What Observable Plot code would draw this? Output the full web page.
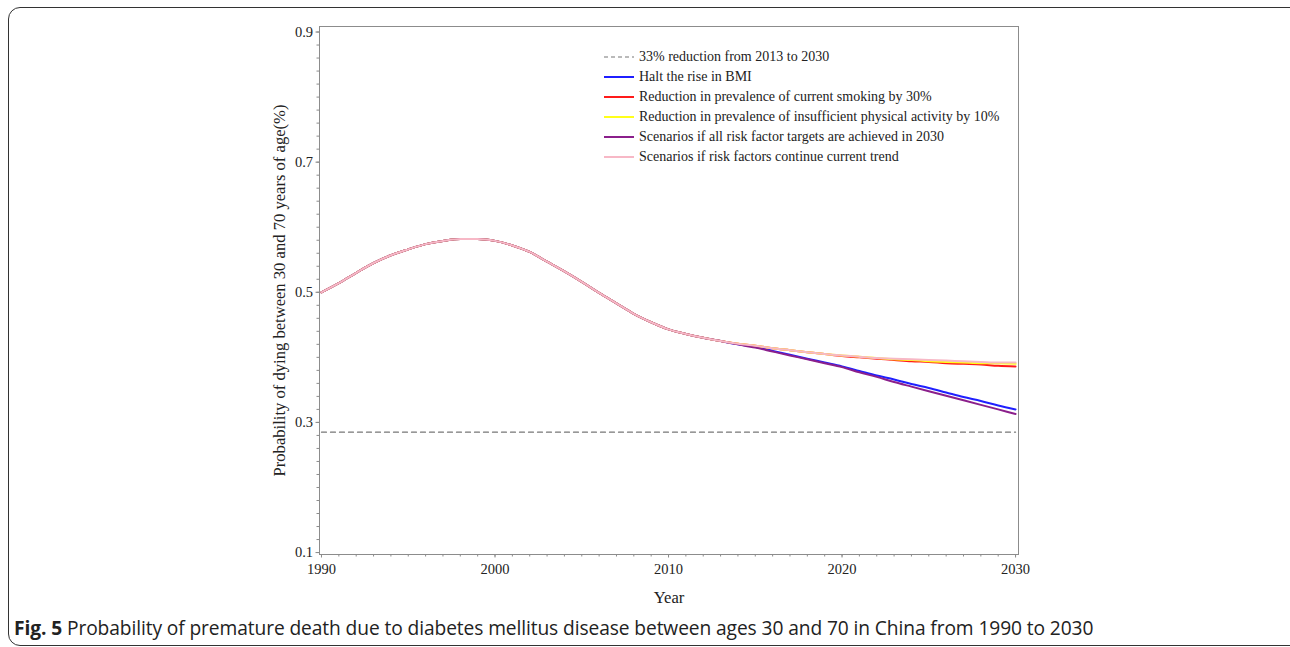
<!DOCTYPE html>
<html><head><meta charset="utf-8">
<script src="https://cdn.jsdelivr.net/npm/d3@7"></script>
<script src="https://cdn.jsdelivr.net/npm/@observablehq/plot@0.6"></script>
<style>
body{margin:0;background:#fff;}
#wrap{position:relative;width:1290px;height:647px;overflow:hidden;background:#fff;}
#border{position:absolute;left:8px;top:7px;width:1300px;height:637px;border:1.5px solid #333;border-radius:12px;}
#chart{position:absolute;left:0;top:0;}
#legend{position:absolute;left:604px;top:47px;font-family:"Liberation Serif",serif;font-size:14px;color:#222;}
.row{height:20px;display:flex;align-items:center;white-space:nowrap;}
.row svg{margin-right:5px;display:block}
#caption{position:absolute;left:14px;top:614px;font-family:"Open Sans",sans-serif;font-size:19.2px;color:#222;white-space:nowrap;letter-spacing:-0.1px;}
#chart g[aria-label="y-axis label"] text,#chart g[aria-label="x-axis label"] text{font-size:16.6px;}
</style></head>
<body>
<div id="wrap">
<div id="border"></div>
<div id="chart"></div>
<div id="legend"></div>
<div id="caption"><b>Fig. 5</b> Probability of premature death due to diabetes mellitus disease between ages 30 and 70 in China from 1990 to 2030</div>
</div>
<script>
// shared history 1990-2013
const yearsCommon = [1990,1991,1992,1993,1994,1995,1996,1997,1998,1999,2000,2001,2002,2003,2004,2005,2006,2007,2008,2009,2010,2011,2012,2013];
const valuesCommon = [0.500,0.514,0.530,0.545,0.557,0.566,0.574,0.579,0.582,0.582,0.579,0.572,0.562,0.547,0.532,0.516,0.499,0.483,0.467,0.454,0.443,0.436,0.430,0.425];
// projections 2014-2030
const yearsProj = [2014,2015,2016,2017,2018,2019,2020,2021,2022,2023,2024,2025,2026,2027,2028,2029,2030];
const bmi      = [0.420,0.416,0.410,0.404,0.398,0.392,0.386,0.379,0.372,0.366,0.359,0.353,0.346,0.339,0.333,0.326,0.320];
const smoking  = [0.421,0.418,0.414,0.411,0.408,0.405,0.402,0.400,0.398,0.396,0.394,0.393,0.391,0.390,0.389,0.387,0.386];
const activity = [0.421,0.418,0.414,0.411,0.408,0.405,0.403,0.401,0.399,0.397,0.396,0.394,0.393,0.392,0.391,0.391,0.390];
const allTargets = [0.420,0.415,0.409,0.403,0.397,0.391,0.385,0.377,0.370,0.362,0.355,0.348,0.341,0.334,0.327,0.320,0.313];
const trend    = [0.421,0.418,0.414,0.411,0.408,0.405,0.403,0.401,0.399,0.398,0.397,0.396,0.395,0.394,0.393,0.392,0.392];
const targetValue = 0.285; // 33% reduction from 2013 to 2030
const targetYears = [1990, 2030];

const seriesNames = ["Halt the rise in BMI","Reduction in prevalence of current smoking by 30%","Reduction in prevalence of insufficient physical activity by 10%","Scenarios if all risk factor targets are achieved in 2030","Scenarios if risk factors continue current trend"];
const seriesColors = ["#1f1fff","#ff1a1a","#ffff1a","#8b1f8b","#f7b8c6"];
const seriesTails = [bmi, smoking, activity, allTargets, trend];
const dashedLabel = "33% reduction from 2013 to 2030";

const xMajor = [1990,2000,2010,2020,2030];
const xMinor = d3.range(1990, 2031, 1);
const yMajor = [0.1,0.3,0.5,0.7,0.9];
const yMinor = d3.range(0.1, 0.9001, 0.02);

const rows = [];
seriesNames.forEach((name, i) => {
  yearsCommon.forEach((yr, j) => rows.push({name, year: yr, value: valuesCommon[j]}));
  yearsProj.forEach((yr, j) => rows.push({name, year: yr, value: seriesTails[i][j]}));
});
const dashRows = targetYears.map(yr => ({year: yr, value: targetValue}));

const grey = "#8c8c8c";
const chart = Plot.plot({
  width: 1290, height: 610,
  marginLeft: 319, marginRight: 272, marginTop: 26, marginBottom: 56,
  style: {fontFamily: "'Liberation Serif', serif", fontSize: "14.5px", color: "#222", background: "transparent"},
  x: {domain: [1989.885, 2030.17]},
  y: {domain: [0.097, 0.9085]},
  marks: [
    Plot.frame({stroke: grey}),
    Plot.axisX({ticks: xMinor, tickSize: 2.5, text: null, stroke: grey, label: null}),
    Plot.axisX({ticks: xMajor, tickSize: 3.5, tickPadding: 6, tickFormat: d => String(d), stroke: grey,
      label: "Year", labelAnchor: "center", labelArrow: "none", labelOffset: 48}),
    Plot.axisY({ticks: yMinor, tickSize: 2.5, text: null, stroke: grey, label: null}),
    Plot.axisY({ticks: yMajor, tickSize: 3.5, tickPadding: 3, tickFormat: d => d.toFixed(1), stroke: grey,
      label: "Probability of dying between 30 and 70 years of age(%)", labelAnchor: "center", labelArrow: "none", labelOffset: 46}),
    Plot.lineY(dashRows, {x: "year", y: "value", stroke: "#777", strokeWidth: 1.2, strokeDasharray: "5,4"}),
    ...seriesNames.map((name, i) => Plot.lineY(rows.filter(r => r.name === name),
      {x: "year", y: "value", stroke: seriesColors[i], strokeWidth: 2, curve: "monotone-x"}))
  ]
});
document.getElementById("chart").appendChild(chart);

const legend = document.getElementById("legend");
function addRow(color, dash, text) {
  const div = document.createElement("div");
  div.className = "row";
  div.innerHTML = `<svg width="30" height="4"><line x1="0" x2="30" y1="2" y2="2" stroke="${color}" stroke-width="${dash ? 1.2 : 2}" ${dash ? 'stroke-dasharray="4,3"' : ''}/></svg><span>${text}</span>`;
  legend.appendChild(div);
}
addRow("#777", true, dashedLabel);
seriesNames.forEach((n, i) => addRow(seriesColors[i], false, n));
</script>
</body></html>
